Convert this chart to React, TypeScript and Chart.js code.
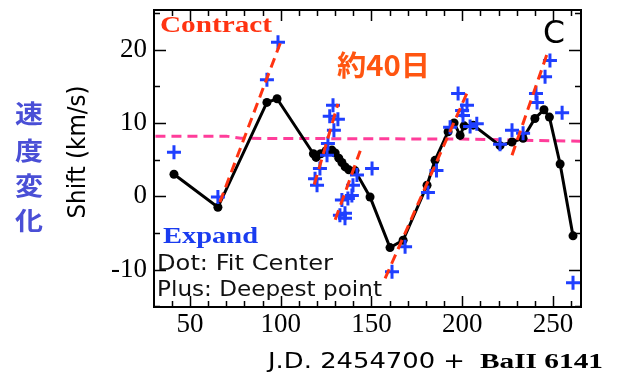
import React, { useEffect, useRef } from "react";
import { Chart, registerables } from "chart.js";
Chart.register(...registerables);

// Fit centre (black dots, connected)
const dotX = [41.2, 65.4, 92.4, 98.0, 118.0, 119.5, 122.0, 125.0, 128.2, 130.0, 132.0, 133.7, 135.5, 137.5, 140.9, 149.2, 160.2, 167.4, 180.6, 185.0, 192.2, 195.5, 198.8, 201.0, 206.0, 220.8, 227.4, 233.5, 240.0, 245.0, 248.0, 253.9, 261.0];
const dotY = [3.0, -1.5, 12.8, 13.3, 5.8, 5.3, 5.8, 6.2, 6.3, 5.9, 5.2, 4.6, 4.0, 3.6, 3.5, -0.1, -7.0, -6.0, 1.5, 4.9, 8.8, 10.0, 8.3, 9.6, 9.7, 6.9, 7.4, 7.9, 10.6, 11.8, 10.8, 4.4, -5.4];

// Deepest point (blue plus)
const plusX = [41.2, 65.4, 92.4, 98.5, 118.9, 120.0, 121.6, 125.5, 126.0, 127.0, 128.8, 129.3, 131.5, 132.6, 133.7, 135.4, 135.4, 137.0, 139.2, 139.8, 142.0, 150.3, 161.3, 168.5, 181.1, 185.8, 193.3, 197.7, 199.9, 200.4, 202.6, 204.3, 208.0, 220.8, 227.4, 233.5, 240.6, 241.2, 245.6, 248.3, 255.0, 261.0];
const plusY = [6.0, -0.1, 15.9, 21.0, 2.4, 1.5, 3.8, 5.6, 7.2, 10.9, 12.4, 9.0, 10.5, -2.6, -0.5, -2.3, -3.0, -0.3, 0.1, 1.5, 2.9, 3.8, -10.3, -6.9, 0.5, 3.5, 9.4, 14.0, 11.7, 11.0, 12.4, 9.5, 9.9, 7.1, 9.0, 8.6, 14.0, 12.8, 16.3, 18.5, 11.4, -11.8];

// Contraction fits (red dashed segments): start/end
const fitX0 = [66.5, 118.5, 130.0, 157.5, 227.4];
const fitY0 = [-0.8, 1.6, -3.2, -11.2, 5.6];
const fitX1 = [100.7, 131.5, 143.8, 202.8, 246.7];
const fitY1 = [21.5, 12.6, 6.2, 14.2, 19.4];

// Reference level (pink dashed)
const baseX = [31, 70, 78, 200, 265];
const baseY = [8.2, 8.2, 7.9, 7.8, 7.5];

const xTicks = [50, 100, 150, 200, 250];
const xMinorTicks = [40, 50, 60, 70, 80, 90, 100, 110, 120, 130, 140, 150, 160, 170, 180, 190, 200, 210, 220, 230, 240, 250, 260];
const yTicks = [-10, 0, 10, 20];
const yMinorTicks = [-15, -10, -5, 0, 5, 10, 15, 20, 25];

const X_MIN = 30.2, X_MAX = 265.4, Y_MIN = -15.1, Y_MAX = 25.4;

function fitText(ctx: CanvasRenderingContext2D, text: string, x: number, y: number, font: string, color: string, width: number, baseline: CanvasTextBaseline = "alphabetic") {
  ctx.save();
  ctx.font = font;
  ctx.fillStyle = color;
  ctx.textBaseline = baseline;
  ctx.textAlign = "left";
  const w = ctx.measureText(text).width;
  ctx.translate(x, y);
  ctx.scale(width / w, 1);
  ctx.fillText(text, 0, 0);
  ctx.restore();
}

const decoPlugin = {
  id: "deco",
  afterDraw(chart: any) {
    const { ctx, chartArea: a, scales } = chart;
    const xs = scales.x, ys = scales.y;
    ctx.save();
    ctx.strokeStyle = "#000";
    ctx.lineWidth = 1.5;
    ctx.beginPath();
    for (const v of xMinorTicks) {
      const px = Math.round(xs.getPixelForValue(v)) + 0.5;
      const len = xTicks.includes(v) ? 11 : 6;
      ctx.moveTo(px, a.bottom); ctx.lineTo(px, a.bottom - len);
      ctx.moveTo(px, a.top); ctx.lineTo(px, a.top + len);
    }
    for (const v of yMinorTicks) {
      const py = Math.round(ys.getPixelForValue(v)) + 0.5;
      const len = yTicks.includes(v) ? 12 : 6;
      ctx.moveTo(a.left, py); ctx.lineTo(a.left + len, py);
      ctx.moveTo(a.right, py); ctx.lineTo(a.right - len, py);
    }
    ctx.stroke();
    ctx.lineWidth = 2;
    ctx.strokeRect(a.left, a.top, a.right - a.left, a.bottom - a.top);
    ctx.restore();

    fitText(ctx, "Contract", 160, 32, "bold 24px 'Liberation Serif'", "#ff3311", 112);
    fitText(ctx, "約40日", 337, 65, "bold 28px 'Noto Sans CJK JP'", "#ff5511", 93, "middle");
    fitText(ctx, "C", 543, 43, "32px 'DejaVu Sans'", "#000", 22);
    fitText(ctx, "Expand", 163, 243, "bold 24px 'Liberation Serif'", "#1a3cf0", 95);
    fitText(ctx, "Dot: Fit Center", 157, 270, "22px 'DejaVu Sans'", "#111", 176);
    fitText(ctx, "Plus: Deepest point", 157, 296, "22px 'DejaVu Sans'", "#111", 225);
    fitText(ctx, "J.D. 2454700 +", 268, 368, "22px 'DejaVu Sans'", "#000", 197);
    fitText(ctx, "BaII 6141", 480, 368, "bold 20px 'Liberation Serif'", "#000", 123);

    const chars = ["速", "度", "変", "化"];
    const cy = [113, 150, 185, 220];
    chars.forEach((c, i) => {
      fitText(ctx, c, 15, cy[i], "bold 25px 'Noto Sans CJK JP'", "#4a4fd6", 28, "middle");
    });

    ctx.save();
    ctx.font = "23px 'DejaVu Sans'";
    ctx.fillStyle = "#000";
    ctx.textAlign = "center";
    ctx.textBaseline = "middle";
    const w = ctx.measureText("Shift (km/s)").width;
    ctx.translate(78, 152);
    ctx.rotate(-Math.PI / 2);
    ctx.scale(133 / w, 1.1);
    ctx.fillText("Shift (km/s)", 0, 0);
    ctx.restore();
  },
};

export default function App() {
  const ref = useRef<HTMLCanvasElement | null>(null);
  useEffect(() => {
    if (!ref.current) return;
    const fitSets = fitX0.map((x0, i) => ({
      data: [{ x: x0, y: fitY0[i] }, { x: fitX1[i], y: fitY1[i] }],
      showLine: true,
      borderColor: "#ff3311",
      borderWidth: 3,
      borderDash: [10, 6],
      pointRadius: 0,
      order: 0,
    }));
    const chart = new Chart(ref.current, {
      type: "scatter",
      data: {
        datasets: [
          ...fitSets,
          {
            data: plusX.map((x, i) => ({ x, y: plusY[i] })),
            showLine: false,
            pointStyle: "cross",
            pointRadius: 7,
            pointBorderWidth: 3,
            pointBorderColor: "#1f3fff",
            pointBackgroundColor: "#1f3fff",
            order: 1,
          },
          {
            data: dotX.map((x, i) => ({ x, y: dotY[i] })),
            showLine: true,
            borderColor: "#000",
            borderWidth: 3,
            pointRadius: 4.5,
            pointBorderWidth: 0,
            pointBackgroundColor: "#000",
            order: 2,
          },
          {
            data: baseX.map((x, i) => ({ x, y: baseY[i] })),
            showLine: true,
            borderColor: "#ff3d9a",
            borderWidth: 3,
            borderDash: [10, 6],
            pointRadius: 0,
            order: 3,
          },
        ] as any,
      },
      options: {
        animation: false,
        responsive: true,
        maintainAspectRatio: false,
        layout: { padding: { left: 0, top: 9, right: 40, bottom: 0 } },
        plugins: { legend: { display: false }, tooltip: { enabled: false } },
        events: [],
        scales: {
          x: {
            type: "linear",
            min: X_MIN,
            max: X_MAX,
            grid: { display: false, drawTicks: false },
            border: { display: false },
            afterBuildTicks: (s: any) => { s.ticks = xTicks.map((v) => ({ value: v })); },
            afterFit: (s: any) => { s.height = 78; s.paddingLeft = 0; s.paddingRight = 0; },
            ticks: { color: "#000", padding: 2, font: { family: "'Liberation Serif'", size: 27 } },
          },
          y: {
            type: "linear",
            min: Y_MIN,
            max: Y_MAX,
            grid: { display: false, drawTicks: false },
            border: { display: false },
            afterBuildTicks: (s: any) => { s.ticks = yTicks.map((v) => ({ value: v })); },
            afterFit: (s: any) => { s.width = 154; s.paddingTop = 0; s.paddingBottom = 0; },
            ticks: { color: "#000", padding: 7, font: { family: "'Liberation Serif'", size: 27 } },
          },
        },
      },
      plugins: [decoPlugin],
    });
    return () => chart.destroy();
  }, []);
  return (
    <div style={{ position: "fixed", left: 0, top: 0, width: 621, height: 385, background: "#fff" }}>
      <canvas ref={ref} />
    </div>
  );
}
